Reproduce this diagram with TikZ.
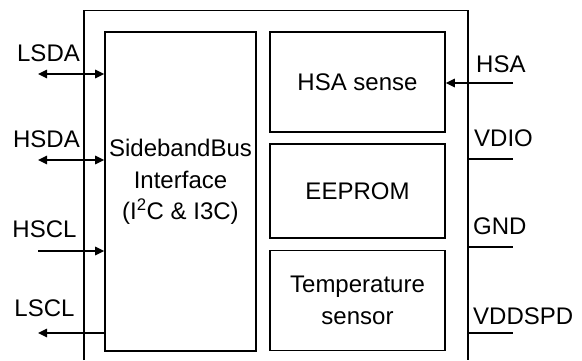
\documentclass[tikz,border=0pt]{standalone}
\usepackage{fontspec}
\setmainfont{Liberation Sans}
\usetikzlibrary{arrows.meta}
\begin{document}
\begin{tikzpicture}[x=1pt,y=-1pt,
  box/.style={draw,line width=1.6pt,inner sep=0pt},
  lbl/.style={font=\fontsize{24}{31.5}\selectfont,inner sep=0pt},
  wire/.style={line width=1.6pt},
  tip/.style={-{Triangle[length=9pt,width=8.5pt]}},
  dtip/.style={{Triangle[length=9pt,width=8.5pt]}-{Triangle[length=9pt,width=8.5pt]}}]
\useasboundingbox (0,0) rectangle (582,360);
% outer package outline (open at bottom)
\draw[wire] (84,360) -- (84,10.5) -- (468,10.5) -- (468,360);
% inner blocks
\node[box,minimum width=151pt,minimum height=319pt] (sb) at (180.5,191.5) {};
\node[lbl,align=center] (sbt) at (180.5,182) {SidebandBus\\Interface\\(I\textsuperscript{2}C \& I3C)};
\node[box,minimum width=175pt,minimum height=100pt,lbl] (hsa) at (357.5,82) {HSA sense};
\node[box,minimum width=175pt,minimum height=94pt,lbl] (ee) at (357.5,191) {EEPROM};
\node[box,minimum width=175pt,minimum height=100pt,lbl,align=center] (ts) at (357.5,300.5) {Temperature\\sensor};
% left pins
\coordinate (lsdaE) at (38,74);
\coordinate (hsdaE) at (38,160);
\coordinate (hsclE) at (38,251);
\coordinate (lsclE) at (38,333);
\draw[wire,dtip] (lsdaE) -- (sb.west |- lsdaE);
\draw[wire,dtip] (hsdaE) -- (sb.west |- hsdaE);
\draw[wire,tip] (hsclE) -- (sb.west |- hsclE);
\draw[wire,tip] (sb.west |- lsclE) -- (lsclE);
\node[lbl] (lsda) at (48.5,53) {LSDA};
\node[lbl] (hsda) at (46.5,139) {HSDA};
\node[lbl] (hscl) at (44.5,229) {HSCL};
\node[lbl] (lscl) at (44.5,308) {LSCL};
% right pins
\coordinate (hsaE) at (513,83);
\coordinate (vdioA) at (468,159);
\coordinate (vdioE) at (513,159);
\coordinate (gndA) at (468,247);
\coordinate (gndE) at (513,247);
\coordinate (vddA) at (468,333);
\coordinate (vddE) at (513,333);
\draw[wire,tip] (hsaE) -- (hsa.east |- hsaE);
\draw[wire] (vdioA) -- (vdioE);
\draw[wire] (gndA) -- (gndE);
\draw[wire] (vddA) -- (vddE);
\node[lbl,anchor=west] (hsal) at (476,64) {HSA};
\node[lbl,anchor=west] (vdiol) at (474,138) {VDIO};
\node[lbl,anchor=west] (gndl) at (473,226) {GND};
\node[lbl,anchor=west] (vddl) at (473,316) {VDDSPD};
\end{tikzpicture}
\end{document}
